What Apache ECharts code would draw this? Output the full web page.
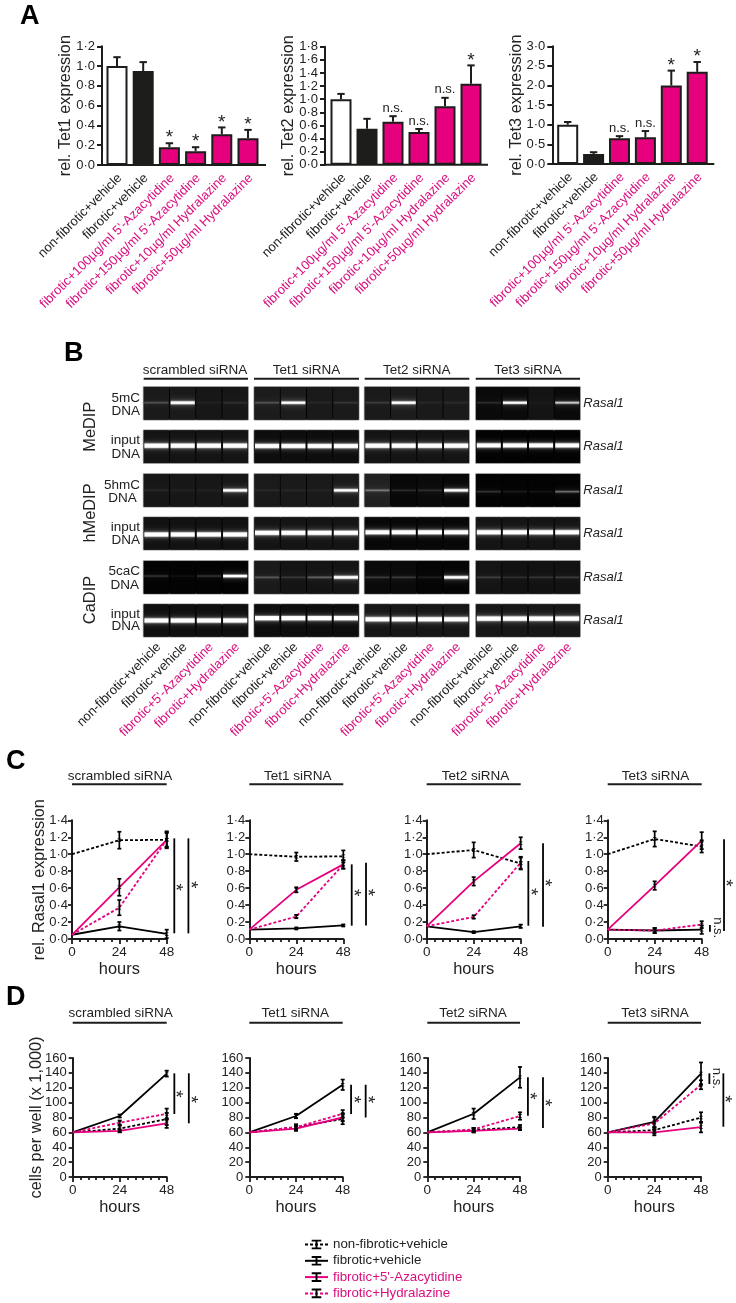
<!DOCTYPE html>
<html><head><meta charset="utf-8">
<script src="https://cdn.jsdelivr.net/npm/echarts@6/dist/echarts.min.js"></script>
<style>html,body{margin:0;padding:0;background:#fff}#c{width:736px;height:1303px}</style>
</head><body><div id="c"></div>
<script>
const FONT='"Liberation Sans",Arial,sans-serif', INK='#1d1d1b', PINK='#e6007e', PINKTEXT='#d9107f';
// ---- Panel A ----
const doseLabels=['non-fibrotic+vehicle','fibrotic+vehicle','fibrotic+100µg/ml 5\'-Azacytidine','fibrotic+150µg/ml 5\'-Azacytidine','fibrotic+10µg/ml Hydralazine','fibrotic+50µg/ml Hydralazine'];
const barColors=['#ffffff',INK,PINK,PINK,PINK,PINK];
const tet1Values=[1.0,0.95,0.18,0.14,0.31,0.27], tet1Tops=[1.09,1.04,0.22,0.18,0.38,0.355], tet1Marks=['','','*','*','*','*'];
const tet2Values=[1.0,0.55,0.655,0.5,0.89,1.235], tet2Tops=[1.08,0.70,0.74,0.545,1.02,1.515], tet2Marks=['','','n.s.','n.s.','n.s.','*'];
const tet3Values=[1.0,0.255,0.655,0.68,2.0,2.35], tet3Tops=[1.07,0.30,0.71,0.84,2.38,2.6], tet3Marks=['','','n.s.','n.s.','*','*'];
// ---- Panel B (grey level of the bands / backgrounds, 4 columns x 4 lanes) ----
const laneLabels=['non-fibrotic+vehicle','fibrotic+vehicle','fibrotic+5\'-Azacytidine','fibrotic+Hydralazine'];
const gelRowNames=['5mC','input','5hmC','input','5caC','input'];
const gel5mC=[[.16,.95,.03,.07],[.16,.8,.04,.08],[.1,.85,.04,.05],[.1,.8,.02,.55]];
const gel5mCBg=[[.1,.1,.09,.09],[.11,.11,.1,.1],[.1,.11,.1,.1],[.04,.04,.08,.04]];
const gel5hmC=[[.05,.03,.03,.9],[.05,.04,.03,.85],[.25,.1,.1,.9],[.14,.07,.05,.3]];
const gel5hmCBg=[[.09,.09,.09,.09],[.1,.1,.1,.1],[.13,.03,.04,.03],[.01,.01,.01,.01]];
const gel5caC=[[.14,.04,.14,.9],[.18,.1,.22,.95],[.14,.14,.07,.95],[.12,.08,.1,.12]];
const gel5caCBg=[[.01,.01,.01,.01],[.1,.08,.08,.08],[.04,.04,.02,.02],[.08,.07,.07,.07]];
const gelInput=[1.5,1.5,1.5,1.5];
const gelInputBg1=[.08,.05,.08,.01], gelInputBg2=[.07,.08,.03,.08], gelInputBg3=[.06,.05,.09,.09];
const gelBandY=[[.48,.48,.48,.48],[.47,.48,.47,.46],[.5,.5,.5,.54],[.53,.48,.46,.46],[.46,.5,.5,.5],[.5,.43,.46,.44]];
// ---- Panels C, D ----
const hours=[0,24,48];
const panelTitles=['scrambled siRNA','Tet1 siRNA','Tet2 siRNA','Tet3 siRNA'];
const seriesNames=['non-fibrotic+vehicle','fibrotic+vehicle','fibrotic+5\'-Azacytidine','fibrotic+Hydralazine'];
const rasalNon=[[1,1.165,1.17],[1,.97,.975],[1,1.05,.89],[1,1.18,1.09]];
const rasalFib=[[.05,.15,.06],[.11,.125,.16],[.15,.08,.15],[.11,.1,.11]];
const rasalAza=[[.05,.61,1.17],[.11,.58,.88],[.15,.68,1.13],[.11,.63,1.16]];
const rasalHyd=[[.05,.37,1.17],[.11,.265,.88],[.15,.26,.9],[.11,.1,.17]];
const rasalNonErr=[[.1,.09],[.05,.07],[.09,.07],[.09,.07]];
const rasalFibErr=[[.05,.05],[.01,.01],[.01,.02],[.03,.05]];
const rasalAzaErr=[[.1,.1],[.03,.05],[.05,.07],[.05,.1]];
const rasalHydErr=[[.09,.08],[.02,.05],[.02,.07],[.03,.04]];
const rasalBars=[[[51.85,.067,1.187],[59,.067,1.187]],[[52.3,.157,.88],[59.6,.16,.9]],[[51.9,.157,.92],[59.4,.145,1.13]],[[59.4,.094,1.176],[52.2,.086,.165]]];
const rasalMarks=[[[54.7,.61,'*'],[62,.64,'*']],[[55.4,.546,'*'],[62.5,.55,'*']],[[55,.558,'*'],[62.5,.664,'*']],[[62.5,.66,'*'],[56,.133,'n.s.']]];
const cellsNon=[[60,65,78],[60,67,78],[60,63,67],[60,63,80]];
const cellsFib=[[60,82,139],[60,82,124],[60,85,134],[60,74,139]];
const cellsAza=[[60,62,72],[60,65,80],[60,62,65],[60,60,67]];
const cellsHyd=[[60,73,85],[60,67,85],[60,64,82],[60,72,124]];
const cellsNonErr=[[4,8],[4,7],[3,3],[4,7]];
const cellsFibErr=[[2,4],[3,7],[7,14],[7,15]];
const cellsAzaErr=[[2,6],[3,5],[2,2],[4,7]];
const cellsHydErr=[[3,7],[3,5],[2,5],[8,6]];
const cellsBars=[[[51.9,84.7,139.4],[59.3,72.2,139.4]],[[52.3,84.7,124],[59.8,80,124]],[[52.1,82.4,134],[59.9,66,134]],[[52.3,125,139.4],[59.5,67.6,139.4]]];
const cellsMarks=[[[54.7,111.6,'*'],[62.3,104.4,'*']],[[55.5,104.4,'*'],[63,104.4,'*']],[[55.3,108.9,'*'],[63.1,99.9,'*']],[[62.5,104.8,'*'],[56,132.7,'n.s.']]];

const grids=[],xAxes=[],yAxes=[],series=[],graphics=[];
function T(text,x,y,o){o=o||{};graphics.push({type:'text',x,y,rotation:o.rot||0,silent:true,style:{text,fill:o.color||'#222',align:o.align||'center',verticalAlign:'middle',font:(o.style||'')+' '+(o.size||13.5)+'px '+FONT}});}
function L(x1,y1,x2,y2,w){graphics.push({type:'line',silent:true,shape:{x1,y1,x2,y2},style:{stroke:INK,lineWidth:w||2}});}
function addGrid(g,x,y){grids.push(g);xAxes.push(Object.assign({gridIndex:grids.length-1},x));yAxes.push(Object.assign({gridIndex:grids.length-1},y));return grids.length-1;}

// ---- Panel A build ----
function barChart(left,width,top,height,axisX,endX,yMax,yInt,name,values,tops,marks){
  const k=addGrid({left,width,top,height},
   {type:'category',data:doseLabels,axisLine:{show:false},axisTick:{alignWithLabel:true,length:4,lineStyle:{color:INK,width:2}},
    axisLabel:{interval:0,rotate:45,margin:14,padding:[0,-4,0,0],fontFamily:FONT,fontSize:13,color:(v,i)=>i<2?'#222':PINKTEXT}},
   {type:'value',min:0,max:yMax,interval:yInt,offset:left-axisX,name,nameLocation:'middle',nameGap:28,nameRotate:90,nameMoveOverlap:false,nameTextStyle:{fontFamily:FONT,fontSize:16.3,color:'#222'},
    axisLine:{show:true,lineStyle:{color:INK,width:2}},axisTick:{show:true,length:5,lineStyle:{color:INK,width:2}},splitLine:{show:false},
    axisLabel:{margin:7,fontFamily:FONT,fontSize:13,color:'#222',formatter:v=>v.toFixed(1).replace('.','·')}});
  series.push({type:'bar',xAxisIndex:k,yAxisIndex:k,barWidth:21,z:2,
    data:values.map((v,i)=>({value:v,itemStyle:{color:barColors[i],borderColor:INK,borderWidth:2}}))});
  series.push({type:'custom',xAxisIndex:k,yAxisIndex:k,z:1,data:values.map((v,i)=>[i,v,tops[i]]),
    renderItem:(p,api)=>{const a=api.coord([api.value(0),api.value(1)]),b=api.coord([api.value(0),api.value(2)]);const m=marks[p.dataIndex];
      const ch=[{type:'line',shape:{x1:a[0],y1:a[1],x2:b[0],y2:b[1]},style:{stroke:INK,lineWidth:2}},
                {type:'line',shape:{x1:b[0]-3.7,y1:b[1],x2:b[0]+3.7,y2:b[1]},style:{stroke:INK,lineWidth:2}}];
      if(m)ch.push({type:'text',x:b[0],y:b[1]+(m==='*'?-5:-8),style:{text:m,fill:'#222',align:'center',verticalAlign:'middle',font:(m==='*'?19:13)+'px '+FONT}});
      return {type:'group',children:ch};}});
  L(axisX-1,top+height,endX,top+height,2);
}
barChart(103.9,157.2,46.3,118.7,102,266,1.2,.2,'rel. Tet1 expression',tet1Values,tet1Tops,tet1Marks);
barChart(328,156,46.7,118,325,488,1.8,.2,'rel. Tet2 expression',tet2Values,tet2Tops,tet2Marks);
barChart(554.75,155.4,46.3,117.7,552.3,714.3,3,.5,'rel. Tet3 expression',tet3Values,tet3Tops,tet3Marks);

// ---- Panel B build ----
const colX=[[143.3,105],[254,105],[364.3,105],[475.7,104.6]];
const rowY=[[386.7,33.3],[430,33.3],[473.7,33.3],[517,33],[560.7,33.3],[604,33]];
const rowBand=[gel5mC,null,gel5hmC,null,gel5caC,null];
const rowBg=[gel5mCBg,gelInputBg1,gel5hmCBg,gelInputBg2,gel5caCBg,gelInputBg3];
function gray(v){const c=Math.round(255*Math.max(0,Math.min(1,v)));return 'rgb('+c+','+c+','+c+')';}
rowY.forEach((ry,r)=>colX.forEach((cx,c)=>{
  const last=r===5;
  const k=addGrid({show:true,left:cx[0],width:cx[1],top:ry[0],height:ry[1],backgroundColor:'#000',borderColor:'#999',borderWidth:1},
    {type:'category',data:laneLabels,axisLine:{show:false},axisTick:{show:false},
     axisLabel:{show:last,interval:0,rotate:45,margin:10.5,padding:[0,-3.5,0,0],fontFamily:FONT,fontSize:13,color:(v,i)=>i<2?'#222':PINKTEXT}},
    {type:'value',min:0,max:1,inverse:true,show:false});
  const band=rowBand[r]?rowBand[r][c]:gelInput, bg=rowBg[r][c], bgL=Array.isArray(bg)?bg:[bg,bg,bg,bg], yb=gelBandY[r][c];
  series.push({type:'custom',xAxisIndex:k,yAxisIndex:k,data:band.map((b,i)=>[i,b,bgL[i]]),
    renderItem:(p,api)=>{const cen=api.coord([api.value(0),0]),bot=api.coord([api.value(0),1]),w=api.size([1,0])[0];
      const I=api.value(1),B=api.value(2),stops=[],core=.028+.018*I;
      for(let i=0;i<=48;i++){const t=i/48,d=t-yb;stops.push({offset:t,color:gray(B+I*(1.3*Math.exp(-Math.pow(d/core,2))+.16*Math.exp(-Math.pow(d/.14,2))))});}
      return {type:'group',children:[
        {type:'rect',shape:{x:cen[0]-w/2+.4,y:cen[1]+.5,width:w-.8,height:bot[1]-cen[1]-1},style:{fill:gray(B)}},
        {type:'rect',shape:{x:cen[0]-w/2+1,y:cen[1]+.5,width:w-2,height:bot[1]-cen[1]-1},style:{fill:new echarts.graphic.LinearGradient(0,0,0,1,stops)}}]};}});
}));
[['scrambled siRNA',195,143.7,248],['Tet1 siRNA',306.5,254,359],['Tet2 siRNA',416.7,364.7,469.3],['Tet3 siRNA',528,475.7,580]].forEach(a=>{T(a[0],a[1],370);L(a[2],378.7,a[3],378.7,2);});
[[gelRowNames[0],140,398.3],['DNA',140,411.7],[gelRowNames[1],140,440.7],['DNA',140,454],[gelRowNames[2],140,485],['DNA',136.7,498.3],[gelRowNames[3],140,527.3],['DNA',140,540.7],[gelRowNames[4],140,571.7],['DNA',139,585],[gelRowNames[5],140,614],['DNA',140,626.7]].forEach(a=>T(a[0],a[1],a[2],{align:'right'}));
[['MeDIP',426.7],['hMeDIP',513],['CaDIP',600]].forEach(a=>T(a[0],90.7,a[1],{rot:Math.PI/2,size:16.4}));
[403.3,446.7,490.7,533.3,577.3,620].forEach(y=>T('Rasal1',583.3,y,{align:'left',style:'italic',size:13}));

// ---- Panels C, D build ----
const lineStyles=[{color:'#000',type:[3,2]},{color:'#000',type:'solid'},{color:PINK,type:'solid'},{color:PINK,type:[3,2]}];
const BEAM='path://M0,0H10V2H6V8H10V10H0V8H4V2H0Z';
function lineChart(i,left,width,top,height,yMax,yInt,fmt,name,gap,labMargin,sets,errs,bars,marks){
  const k=addGrid({left,width,top,height},
    {type:'value',min:0,max:48,interval:24,name:'hours',nameLocation:'middle',nameGap:22,nameMoveOverlap:false,nameTextStyle:{fontFamily:FONT,fontSize:16.4,color:'#222',verticalAlign:'top'},
     axisLine:{lineStyle:{color:INK,width:2}},axisTick:{length:5,lineStyle:{color:INK,width:1.8}},minorTick:{show:true,splitNumber:6,length:3,lineStyle:{color:INK,width:1.8}},splitLine:{show:false},
     axisLabel:{margin:6,fontFamily:FONT,fontSize:13.5,color:'#222',showMinLabel:true,showMaxLabel:true}},
    {type:'value',min:0,max:yMax,interval:yInt,name:name,nameLocation:'middle',nameGap:gap,nameRotate:90,nameMoveOverlap:false,nameTextStyle:{fontFamily:FONT,fontSize:16.3,color:'#222'},
     axisLine:{show:true,lineStyle:{color:INK,width:2}},axisTick:{show:true,length:4,lineStyle:{color:INK,width:1.8}},splitLine:{show:false},
     axisLabel:{margin:labMargin,fontFamily:FONT,fontSize:13,color:'#222',formatter:fmt}});
  sets.forEach((s,j)=>{
    series.push({type:'line',name:seriesNames[j],xAxisIndex:k,yAxisIndex:k,z:3,symbol:BEAM,symbolSize:3.5,
      itemStyle:{color:'#000'},lineStyle:Object.assign({width:1.8},lineStyles[j]),
      data:s[i].map((v,h)=>h===0?{value:[hours[h],v],symbol:'none'}:[hours[h],v])});
    series.push({type:'custom',xAxisIndex:k,yAxisIndex:k,z:4,data:errs[j][i].map((e,h)=>[hours[h+1],s[i][h+1]-e,s[i][h+1]+e]),
      renderItem:(p,api)=>{const a=api.coord([api.value(0),api.value(1)]),b=api.coord([api.value(0),api.value(2)]);const st={stroke:'#000',lineWidth:1.7};
        return {type:'group',children:[{type:'line',shape:{x1:a[0],y1:a[1],x2:b[0],y2:b[1]},style:st},{type:'line',shape:{x1:a[0]-2,y1:a[1],x2:a[0]+2,y2:a[1]},style:st},{type:'line',shape:{x1:b[0]-2,y1:b[1],x2:b[0]+2,y2:b[1]},style:st}]};}});
  });
  series.push({type:'custom',xAxisIndex:k,yAxisIndex:k,data:bars[i],
    renderItem:(p,api)=>{const a=api.coord([api.value(0),api.value(1)]),b=api.coord([api.value(0),api.value(2)]);
      return {type:'line',shape:{x1:a[0],y1:a[1],x2:b[0],y2:b[1]},style:{stroke:'#000',lineWidth:1.8}};}});
  series.push({type:'custom',xAxisIndex:k,yAxisIndex:k,data:marks[i].map(m=>[m[0],m[1]]),
    renderItem:(p,api)=>{const a=api.coord([api.value(0),api.value(1)]),m=marks[i][p.dataIndex][2];
      return {type:'text',x:m==='*'?a[0]-4.5:a[0],y:a[1],rotation:-Math.PI/2,style:{text:m,fill:'#222',align:'center',verticalAlign:'middle',font:(m==='*'?19:13)+'px '+FONT}};}});
}
const cX=[[72,94.7],[249.3,94],[426.7,94],[607.7,94]], dX=[[72.7,94],[249.3,93.4],[427.3,92.7],[607.7,93.3]];
const cTitle=[120,297.7,475.5,655.5], dTitle=[120.7,295.3,473,655];
cX.forEach((a,i)=>{
  lineChart(i,a[0],a[1],820.3,118.7,1.4,.2,v=>v.toFixed(1).replace('.','·'),i===0?'rel. Rasal1 expression':'',24,4,[rasalNon,rasalFib,rasalAza,rasalHyd],[rasalNonErr,rasalFibErr,rasalAzaErr,rasalHydErr],rasalBars,rasalMarks);
  T(panelTitles[i],cTitle[i],776);L(a[0],784.3,a[0]+a[1],784.3,2);
});
dX.forEach((a,i)=>{
  lineChart(i,a[0],a[1],1058,119,160,20,v=>String(v),i===0?'cells per well (x 1,000)':'',28,6,[cellsNon,cellsFib,cellsAza,cellsHyd],[cellsNonErr,cellsFibErr,cellsAzaErr,cellsHydErr],cellsBars,cellsMarks);
  T(panelTitles[i],dTitle[i],1013.3);L(a[0],1022.7,a[0]+a[1],1022.7,2);
});
[['A',20,16.5],['B',64,354],['C',6,762],['D',6,998]].forEach(a=>T(a[0],a[1],a[2],{align:'left',style:'bold',size:27,color:'#000'}));

const chart=echarts.init(document.getElementById('c'),null,{renderer:'canvas'});
chart.setOption({animation:false,backgroundColor:'#fff',textStyle:{fontFamily:FONT},
  grid:grids,xAxis:xAxes,yAxis:yAxes,series,graphic:{elements:graphics},
  legend:{left:304,top:1238,orient:'vertical',itemWidth:23,itemHeight:12,itemGap:3.3,padding:0,selectedMode:false,
    textStyle:{fontFamily:FONT,fontSize:13.3},
    data:seriesNames.map((n,i)=>({name:n,textStyle:{color:i<2?'#222':PINKTEXT}}))}});
</script></body></html>
